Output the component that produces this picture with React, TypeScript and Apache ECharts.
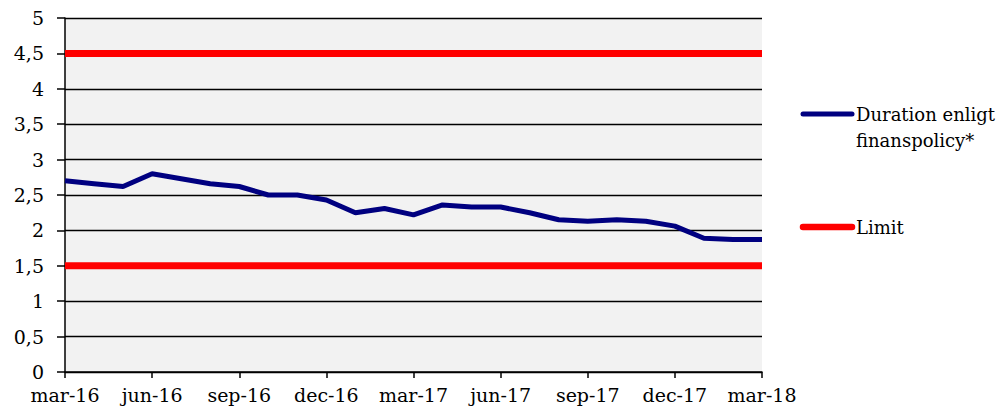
import React, { useEffect, useRef } from "react";
import * as echarts from "echarts";

const months = [
  "mar-16","apr-16","maj-16","jun-16","jul-16","aug-16","sep-16","okt-16","nov-16","dec-16",
  "jan-17","feb-17","mar-17","apr-17","maj-17","jun-17","jul-17","aug-17","sep-17","okt-17","nov-17","dec-17",
  "jan-18","feb-18","mar-18"
];
const tickLabels: Record<number, string> = {
  0: "mar-16", 3: "jun-16", 6: "sep-16", 9: "dec-16", 12: "mar-17", 15: "jun-17", 18: "sep-17", 21: "dec-17", 24: "mar-18"
};
const duration = [2.7, 2.66, 2.62, 2.8, 2.73, 2.66, 2.62, 2.5, 2.5, 2.43, 2.25, 2.31, 2.22, 2.36, 2.33, 2.33, 2.25, 2.15, 2.13, 2.15, 2.13, 2.06, 1.89, 1.87, 1.87];
const limitLower = months.map(() => 1.5);
const limitUpper = months.map(() => 4.5);

const FONT = "DejaVu Serif";

export default function App() {
  const ref = useRef<HTMLDivElement>(null);
  useEffect(() => {
    const chart = echarts.init(ref.current!, null, { renderer: "svg" });
    chart.setOption({
      animation: false,
      textStyle: { fontFamily: FONT },
      grid: {
        left: 65, right: 239, top: 18, bottom: 40,
        show: true, backgroundColor: "#f2f2f2", borderWidth: 0,
      },
      xAxis: {
        type: "category",
        data: months,
        boundaryGap: false,
        axisLine: { lineStyle: { color: "#000", width: 1.5 } },
        axisTick: { show: true, interval: 2, length: 6, lineStyle: { color: "#000", width: 1.5 } },
        axisLabel: {
          interval: 2,
          formatter: (_v: string, i: number) => tickLabels[i] ?? "",
          color: "#000", fontFamily: FONT, fontSize: 19, margin: 13,
        },
        splitLine: { show: false },
      },
      yAxis: {
        type: "value",
        min: 0, max: 5, interval: 0.5,
        axisLine: { show: true, lineStyle: { color: "#000", width: 1.5 } },
        axisTick: { show: true, length: 8, lineStyle: { color: "#000", width: 1.5 } },
        axisLabel: {
          color: "#000", fontFamily: FONT, fontSize: 19, margin: 21,
          formatter: (v: number) => String(v).replace(".", ","),
        },
        splitLine: { show: true, lineStyle: { color: "#000", width: 1.3 } },
      },
      series: [
        {
          name: "Duration enligt finanspolicy*", type: "line", data: duration,
          symbol: "none", lineStyle: { color: "#000080", width: 5 }, z: 3,
        },
        {
          name: "Limit", type: "line", data: limitUpper,
          symbol: "none", lineStyle: { color: "#ff0000", width: 7 }, z: 2,
        },
        {
          name: "Limit", type: "line", data: limitLower,
          symbol: "none", lineStyle: { color: "#ff0000", width: 7 }, z: 2,
        },
      ],
      graphic: [
        { type: "line", shape: { x1: 803, y1: 114, x2: 852, y2: 114 }, style: { stroke: "#000080", lineWidth: 5, lineCap: "round" } },
        { type: "text", x: 856, y: 114, style: { text: "Duration enligt", font: `18px "${FONT}"`, fill: "#000", verticalAlign: "middle" } },
        { type: "text", x: 856, y: 140, style: { text: "finanspolicy*", font: `18px "${FONT}"`, fill: "#000", verticalAlign: "middle" } },
        { type: "line", shape: { x1: 803, y1: 227, x2: 852, y2: 227 }, style: { stroke: "#ff0000", lineWidth: 6.5, lineCap: "round" } },
        { type: "text", x: 856, y: 227, style: { text: "Limit", font: `18px "${FONT}"`, fill: "#000", verticalAlign: "middle" } },
      ],
    });
    return () => chart.dispose();
  }, []);
  return <div ref={ref} style={{ position: "fixed", left: 0, top: 0, width: 1001, height: 412, background: "#fff" }} />;
}
